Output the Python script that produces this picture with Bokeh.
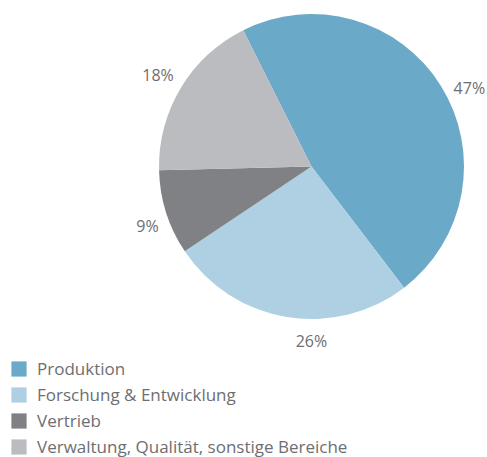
import numpy as np
from bokeh.plotting import figure
from bokeh.models import Range1d, Legend, LegendItem, ColumnDataSource
from bokeh.core.properties import value
from bokeh.embed import file_html
from bokeh.resources import INLINE

categories = ["Produktion", "Forschung & Entwicklung", "Vertrieb",
              "Verwaltung, Qualität, sonstige Bereiche"]
shares = [47, 26, 9, 18]
labels = ["47%", "26%", "9%", "18%"]
colors = ["#6aaac8", "#aed0e2", "#808184", "#bbbcbf"]

W, H = 487, 457
CX, CY, R = 311, H - 166, 152.5
START = -26.6  # degrees, clockwise from 12 o'clock
LABEL_R = 172
# small pixel nudges for label placement (x right, y down)
label_dx = [12, 28, 0, -6]
label_dy = [13, 5, 7, -3]
TEXT = "#6d6e71"
FONT = "Open Sans"

frac = np.array(shares, dtype=float) / sum(shares)
theta_end = START + np.cumsum(frac) * 360.0
theta_start = theta_end - frac * 360.0
theta_mid = (theta_start + theta_end) / 2

src = ColumnDataSource(dict(
    cat=categories,
    color=colors,
    start=np.deg2rad(90 - theta_start),
    end=np.deg2rad(90 - theta_end),
))

p = figure(width=W, height=H, output_backend="svg", toolbar_location=None,
           x_range=Range1d(0, W), y_range=Range1d(0, H), min_border=0,
           background_fill_color="white", border_fill_color="white")
p.axis.visible = False
p.grid.visible = False
p.outline_line_color = None

wedge = p.wedge(x=CX, y=CY, radius=R, start_angle="start", end_angle="end",
                direction="clock", fill_color="color", line_color=None, source=src)

lsrc = ColumnDataSource(dict(
    x=CX + LABEL_R * np.sin(np.deg2rad(theta_mid)),
    y=CY + LABEL_R * np.cos(np.deg2rad(theta_mid)),
    t=labels, dx=label_dx, dy=label_dy,
))
p.text(x="x", y="y", text="t", x_offset="dx", y_offset="dy", source=lsrc,
       text_align="center", text_baseline="middle", text_color=TEXT,
       text_font=value(FONT), text_font_size="16px")

items = [LegendItem(label=c, renderers=[wedge], index=i) for i, c in enumerate(categories)]
legend = Legend(items=items, location=(9, -1), orientation="vertical",
                glyph_width=19, glyph_height=19, label_height=19, spacing=3,
                label_standoff=9, padding=0, margin=0,
                border_line_color=None, background_fill_alpha=0,
                label_text_font=FONT, label_text_font_size="17px",
                label_text_color=TEXT, label_text_baseline="middle")
p.add_layout(legend, "center")

open("out.html", "w").write(file_html(p, INLINE))
